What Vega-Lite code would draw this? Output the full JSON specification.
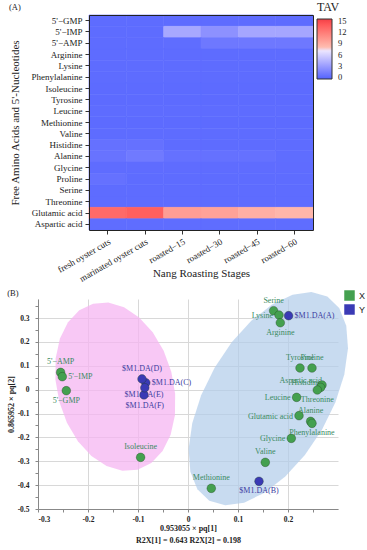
{
  "$schema": "https://vega.github.io/schema/vega-lite/v6.json",
  "background": "white",
  "padding": {"left": 7, "top": 2, "right": 0, "bottom": 0},
  "config": {"view": {"stroke": null}, "font": "Liberation Serif"},
  "spacing": 4,
  "datasets": {
    "heat": [
      {"a":"5'−GMP","s":"fresh oyster cuts","v":0.05},{"a":"5'−GMP","s":"marinated oyster cuts","v":0.05},{"a":"5'−GMP","s":"roasted−15","v":0.05},{"a":"5'−GMP","s":"roasted−30","v":0.05},{"a":"5'−GMP","s":"roasted−45","v":0.05},{"a":"5'−GMP","s":"roasted−60","v":0.05},
      {"a":"5'−IMP","s":"fresh oyster cuts","v":0.05},{"a":"5'−IMP","s":"marinated oyster cuts","v":0.05},{"a":"5'−IMP","s":"roasted−15","v":3.6},{"a":"5'−IMP","s":"roasted−30","v":2.3},{"a":"5'−IMP","s":"roasted−45","v":3.5},{"a":"5'−IMP","s":"roasted−60","v":3.5},
      {"a":"5'−AMP","s":"fresh oyster cuts","v":0.05},{"a":"5'−AMP","s":"marinated oyster cuts","v":0.05},{"a":"5'−AMP","s":"roasted−15","v":0.1},{"a":"5'−AMP","s":"roasted−30","v":0.8},{"a":"5'−AMP","s":"roasted−45","v":0.8},{"a":"5'−AMP","s":"roasted−60","v":0.8},
      {"a":"Arginine","s":"fresh oyster cuts","v":0.05},{"a":"Arginine","s":"marinated oyster cuts","v":0.05},{"a":"Arginine","s":"roasted−15","v":0.05},{"a":"Arginine","s":"roasted−30","v":0.05},{"a":"Arginine","s":"roasted−45","v":0.05},{"a":"Arginine","s":"roasted−60","v":0.05},
      {"a":"Lysine","s":"fresh oyster cuts","v":0.05},{"a":"Lysine","s":"marinated oyster cuts","v":0.05},{"a":"Lysine","s":"roasted−15","v":0.05},{"a":"Lysine","s":"roasted−30","v":0.05},{"a":"Lysine","s":"roasted−45","v":0.05},{"a":"Lysine","s":"roasted−60","v":0.05},
      {"a":"Phenylalanine","s":"fresh oyster cuts","v":0.05},{"a":"Phenylalanine","s":"marinated oyster cuts","v":0.05},{"a":"Phenylalanine","s":"roasted−15","v":0.05},{"a":"Phenylalanine","s":"roasted−30","v":0.05},{"a":"Phenylalanine","s":"roasted−45","v":0.05},{"a":"Phenylalanine","s":"roasted−60","v":0.05},
      {"a":"Isoleucine","s":"fresh oyster cuts","v":0.02},{"a":"Isoleucine","s":"marinated oyster cuts","v":0.02},{"a":"Isoleucine","s":"roasted−15","v":0.02},{"a":"Isoleucine","s":"roasted−30","v":0.02},{"a":"Isoleucine","s":"roasted−45","v":0.02},{"a":"Isoleucine","s":"roasted−60","v":0.02},
      {"a":"Tyrosine","s":"fresh oyster cuts","v":0.02},{"a":"Tyrosine","s":"marinated oyster cuts","v":0.02},{"a":"Tyrosine","s":"roasted−15","v":0.02},{"a":"Tyrosine","s":"roasted−30","v":0.02},{"a":"Tyrosine","s":"roasted−45","v":0.02},{"a":"Tyrosine","s":"roasted−60","v":0.02},
      {"a":"Leucine","s":"fresh oyster cuts","v":0.03},{"a":"Leucine","s":"marinated oyster cuts","v":0.03},{"a":"Leucine","s":"roasted−15","v":0.03},{"a":"Leucine","s":"roasted−30","v":0.03},{"a":"Leucine","s":"roasted−45","v":0.03},{"a":"Leucine","s":"roasted−60","v":0.03},
      {"a":"Methionine","s":"fresh oyster cuts","v":0.02},{"a":"Methionine","s":"marinated oyster cuts","v":0.02},{"a":"Methionine","s":"roasted−15","v":0.02},{"a":"Methionine","s":"roasted−30","v":0.02},{"a":"Methionine","s":"roasted−45","v":0.02},{"a":"Methionine","s":"roasted−60","v":0.02},
      {"a":"Valine","s":"fresh oyster cuts","v":0.03},{"a":"Valine","s":"marinated oyster cuts","v":0.03},{"a":"Valine","s":"roasted−15","v":0.03},{"a":"Valine","s":"roasted−30","v":0.03},{"a":"Valine","s":"roasted−45","v":0.03},{"a":"Valine","s":"roasted−60","v":0.03},
      {"a":"Histidine","s":"fresh oyster cuts","v":0.35},{"a":"Histidine","s":"marinated oyster cuts","v":0.35},{"a":"Histidine","s":"roasted−15","v":0.05},{"a":"Histidine","s":"roasted−30","v":0.05},{"a":"Histidine","s":"roasted−45","v":0.05},{"a":"Histidine","s":"roasted−60","v":0.05},
      {"a":"Alanine","s":"fresh oyster cuts","v":0.5},{"a":"Alanine","s":"marinated oyster cuts","v":0.9},{"a":"Alanine","s":"roasted−15","v":0.35},{"a":"Alanine","s":"roasted−30","v":0.35},{"a":"Alanine","s":"roasted−45","v":0.35},{"a":"Alanine","s":"roasted−60","v":0.1},
      {"a":"Glycine","s":"fresh oyster cuts","v":0.08},{"a":"Glycine","s":"marinated oyster cuts","v":0.08},{"a":"Glycine","s":"roasted−15","v":0.08},{"a":"Glycine","s":"roasted−30","v":0.08},{"a":"Glycine","s":"roasted−45","v":0.08},{"a":"Glycine","s":"roasted−60","v":0.08},
      {"a":"Proline","s":"fresh oyster cuts","v":0.35},{"a":"Proline","s":"marinated oyster cuts","v":0.05},{"a":"Proline","s":"roasted−15","v":0.05},{"a":"Proline","s":"roasted−30","v":0.05},{"a":"Proline","s":"roasted−45","v":0.05},{"a":"Proline","s":"roasted−60","v":0.05},
      {"a":"Serine","s":"fresh oyster cuts","v":0.04},{"a":"Serine","s":"marinated oyster cuts","v":0.04},{"a":"Serine","s":"roasted−15","v":0.04},{"a":"Serine","s":"roasted−30","v":0.04},{"a":"Serine","s":"roasted−45","v":0.04},{"a":"Serine","s":"roasted−60","v":0.04},
      {"a":"Threonine","s":"fresh oyster cuts","v":0.03},{"a":"Threonine","s":"marinated oyster cuts","v":0.03},{"a":"Threonine","s":"roasted−15","v":0.03},{"a":"Threonine","s":"roasted−30","v":0.03},{"a":"Threonine","s":"roasted−45","v":0.03},{"a":"Threonine","s":"roasted−60","v":0.03},
      {"a":"Glutamic acid","s":"fresh oyster cuts","v":13.0},{"a":"Glutamic acid","s":"marinated oyster cuts","v":13.6},{"a":"Glutamic acid","s":"roasted−15","v":9.9},{"a":"Glutamic acid","s":"roasted−30","v":9.6},{"a":"Glutamic acid","s":"roasted−45","v":8.8},{"a":"Glutamic acid","s":"roasted−60","v":8.4},
      {"a":"Aspartic acid","s":"fresh oyster cuts","v":0.1},{"a":"Aspartic acid","s":"marinated oyster cuts","v":0.1},{"a":"Aspartic acid","s":"roasted−15","v":0.1},{"a":"Aspartic acid","s":"roasted−30","v":0.1},{"a":"Aspartic acid","s":"roasted−45","v":0.1},{"a":"Aspartic acid","s":"roasted−60","v":0.1}
    ],
    "ell": [
      {"g":"p","i":0,"x":-0.1899,"y":0.3605},{"g":"p","i":1,"x":-0.1594,"y":0.3649},{"g":"p","i":2,"x":-0.1279,"y":0.3453},{"g":"p","i":3,"x":-0.0977,"y":0.3030},{"g":"p","i":4,"x":-0.0706,"y":0.2410},{"g":"p","i":5,"x":-0.0487,"y":0.1634},{"g":"p","i":6,"x":-0.0334,"y":0.0754},{"g":"p","i":7,"x":-0.0257,"y":-0.0167},{"g":"p","i":8,"x":-0.0261,"y":-0.1070},{"g":"p","i":9,"x":-0.0347,"y":-0.1890},{"g":"p","i":10,"x":-0.0508,"y":-0.2573},{"g":"p","i":11,"x":-0.0734,"y":-0.3073},{"g":"p","i":12,"x":-0.1009,"y":-0.3354},{"g":"p","i":13,"x":-0.1314,"y":-0.3398},{"g":"p","i":14,"x":-0.1629,"y":-0.3202},{"g":"p","i":15,"x":-0.1931,"y":-0.2779},{"g":"p","i":16,"x":-0.2202,"y":-0.2159},{"g":"p","i":17,"x":-0.2421,"y":-0.1382},{"g":"p","i":18,"x":-0.2574,"y":-0.0503},{"g":"p","i":19,"x":-0.2651,"y":0.0419},{"g":"p","i":20,"x":-0.2647,"y":0.1321},{"g":"p","i":21,"x":-0.2561,"y":0.2142},{"g":"p","i":22,"x":-0.2400,"y":0.2824},{"g":"p","i":23,"x":-0.2174,"y":0.3324},{"g":"p","i":24,"x":-0.1899,"y":0.3605},
      {"g":"b","i":0,"x":0.2786,"y":0.3903},{"g":"b","i":1,"x":0.3024,"y":0.3422},{"g":"b","i":2,"x":0.3165,"y":0.2681},{"g":"b","i":3,"x":0.3200,"y":0.1732},{"g":"b","i":4,"x":0.3126,"y":0.0639},{"g":"b","i":5,"x":0.2949,"y":-0.0523},{"g":"b","i":6,"x":0.2680,"y":-0.1675},{"g":"b","i":7,"x":0.2338,"y":-0.2739},{"g":"b","i":8,"x":0.1946,"y":-0.3642},{"g":"b","i":9,"x":0.1531,"y":-0.4322},{"g":"b","i":10,"x":0.1121,"y":-0.4733},{"g":"b","i":11,"x":0.0744,"y":-0.4847},{"g":"b","i":12,"x":0.0426,"y":-0.4657},{"g":"b","i":13,"x":0.0188,"y":-0.4175},{"g":"b","i":14,"x":0.0047,"y":-0.3435},{"g":"b","i":15,"x":0.0012,"y":-0.2485},{"g":"b","i":16,"x":0.0086,"y":-0.1393},{"g":"b","i":17,"x":0.0263,"y":-0.0231},{"g":"b","i":18,"x":0.0532,"y":0.0921},{"g":"b","i":19,"x":0.0874,"y":0.1985},{"g":"b","i":20,"x":0.1266,"y":0.2888},{"g":"b","i":21,"x":0.1681,"y":0.3568},{"g":"b","i":22,"x":0.2091,"y":0.3979},{"g":"b","i":23,"x":0.2468,"y":0.4093},{"g":"b","i":24,"x":0.2786,"y":0.3903}
    ],
    "pts": [
      {"n":"5'−AMP","t":"X","x":-0.2548,"y":0.0725},
      {"n":"5'−IMP","t":"X","x":-0.2514,"y":0.0545},
      {"n":"5'−GMP","t":"X","x":-0.2434,"y":-0.0042},
      {"n":"Isoleucine","t":"X","x":-0.0948,"y":-0.2836},
      {"n":"Serine","t":"X","x":0.1712,"y":0.3309},
      {"n":"Lysine","t":"X","x":0.182,"y":0.3128},
      {"n":"Arginine","t":"X","x":0.1846,"y":0.2806},
      {"n":"Tyrosine","t":"X","x":0.224,"y":0.0909},
      {"n":"Proline","t":"X","x":0.248,"y":0.0909},
      {"n":"Aspartic acid","t":"X","x":0.268,"y":0.0197},
      {"n":"Histidine","t":"X","x":0.2652,"y":0.0096},
      {"n":"Threonine","t":"X","x":0.2586,"y":-0.0013},
      {"n":"Leucine","t":"X","x":0.2172,"y":-0.0322},
      {"n":"Glutamic acid","t":"X","x":0.222,"y":-0.1089},
      {"n":"Alanine","t":"X","x":0.2452,"y":-0.1328},
      {"n":"Phenylalanine","t":"X","x":0.248,"y":-0.1411},
      {"n":"Glycine","t":"X","x":0.2066,"y":-0.204},
      {"n":"Valine","t":"X","x":0.1546,"y":-0.3045},
      {"n":"Methionine","t":"X","x":0.0466,"y":-0.4134},
      {"n":"$M1.DA(A)","t":"Y","x":0.2012,"y":0.31},
      {"n":"$M1.DA(B)","t":"Y","x":0.142,"y":-0.384},
      {"n":"$M1.DA(C)","t":"Y","x":-0.0844,"y":0.029},
      {"n":"$M1.DA(D)","t":"Y","x":-0.092,"y":0.045},
      {"n":"$M1.DA(E)","t":"Y","x":-0.088,"y":-0.022},
      {"n":"$M1.DA(F)","t":"Y","x":-0.0864,"y":0.008}
    ]
  },
  "vconcat": [
    {
      "width": 275,
      "height": 215,
      "title": {"text": "(A)", "anchor": "start", "frame": "bounds", "font": "Liberation Serif", "fontSize": 8.5, "fontWeight": "normal", "color": "#222", "offset": -9},
      "data": {"name": "heat"},
      "resolve": {"axis": {"x": "independent", "y": "independent"}},
      "layer": [
        {
          "mark": {"type": "rect", "strokeWidth": 0.6},
          "encoding": {
            "x": {"field": "s", "type": "nominal",
              "sort": ["fresh oyster cuts","marinated oyster cuts","roasted−15","roasted−30","roasted−45","roasted−60"],
              "scale": {"range": [51, 275]},
              "axis": {"title": "Nang Roasting Stages", "grid": false, "labelAngle": -30, "labelAlign": "right", "labelBaseline": "top", "labelFont": "Liberation Serif", "labelFontSize": 9, "labelColor": "#222", "titleFont": "Liberation Serif", "titleFontSize": 11, "titleFontWeight": "normal", "titleColor": "#222", "tickSize": 4, "tickColor": "#333", "domain": true, "domainColor": "#222", "labelPadding": 3, "titlePadding": -16}},
            "y": {"field": "a", "type": "nominal",
              "sort": ["5'−GMP","5'−IMP","5'−AMP","Arginine","Lysine","Phenylalanine","Isoleucine","Tyrosine","Leucine","Methionine","Valine","Histidine","Alanine","Glycine","Proline","Serine","Threonine","Glutamic acid","Aspartic acid"],
              "axis": {"title": "Free Amino Acids and 5'-Nucleotides", "offset": -51, "grid": false, "labelFont": "Liberation Serif", "labelFontSize": 9, "labelColor": "#222", "titleFont": "Liberation Serif", "titleFontSize": 11, "titleFontWeight": "normal", "titleColor": "#222", "tickSize": 4, "tickColor": "#333", "domain": true, "domainColor": "#222", "labelPadding": 3, "titlePadding": 11}},
            "color": {"field": "v", "type": "quantitative",
              "scale": {"domain": [-0.5, 7.5, 15.5], "range": ["#5263f8", "#ffffff", "#ee3f46"]},
              "legend": {"title": "TAV", "orient": "none", "legendX": 279, "legendY": -13, "direction": "vertical", "gradientLength": 60, "gradientThickness": 15, "values": [0, 3, 6, 9, 12, 15], "labelOverlap": false, "titleFont": "Liberation Serif", "titleFontSize": 12, "titleFontWeight": "normal", "titleColor": "#222", "labelFont": "Liberation Serif", "labelFontSize": 8.5, "labelColor": "#222", "gradientStrokeColor": "#333", "gradientStrokeWidth": 1, "labelOffset": 6}},
            "stroke": {"field": "v", "type": "quantitative",
              "scale": {"domain": [-0.5, 7.5, 15.5], "range": ["#5263f8", "#ffffff", "#ee3f46"]}, "legend": null}
          }
        },
        {
          "mark": {"type": "rect", "opacity": 0},
          "encoding": {
            "x": {"field": "s", "type": "nominal",
              "sort": ["fresh oyster cuts","marinated oyster cuts","roasted−15","roasted−30","roasted−45","roasted−60"],
              "axis": {"orient": "top", "title": null, "labels": false, "ticks": false, "grid": false, "domain": true, "domainColor": "#222"}},
            "y": {"field": "a", "type": "nominal",
              "sort": ["5'−GMP","5'−IMP","5'−AMP","Arginine","Lysine","Phenylalanine","Isoleucine","Tyrosine","Leucine","Methionine","Valine","Histidine","Alanine","Glycine","Proline","Serine","Threonine","Glutamic acid","Aspartic acid"],
              "axis": {"orient": "right", "title": null, "labels": false, "ticks": false, "grid": false, "domain": true, "domainColor": "#222"}}
          }
        }
      ]
    },
    {
      "width": 300,
      "height": 210,
      "title": {"text": "(B)", "anchor": "start", "frame": "bounds", "font": "Liberation Serif", "fontSize": 8.5, "fontWeight": "normal", "color": "#222", "offset": -7},
      "encoding": {
        "x": {"field": "x", "type": "quantitative", "scale": {"domain": [-0.3, 0.3], "nice": false, "zero": false},
          "axis": {"title": ["0.953055 × pq[1]", "R2X[1] = 0.643 R2X[2] = 0.198"],
            "values": [-0.3,-0.25,-0.2,-0.15,-0.1,-0.05,0,0.05,0.1,0.15,0.2,0.25],
            "labelExpr": "abs(round(datum.value*100)) % 10 != 0 ? '' : (abs(datum.value) < 0.001 ? '0' : replace(format(datum.value, '.1f'), '−', '-'))",
            "grid": true,
            "gridColor": {"condition": {"test": "abs(round(datum.value*100)) % 10 == 0", "value": "#d8d8d8"}, "value": "rgba(0,0,0,0)"},
            "domainColor": "#888", "tickColor": "#888", "tickSize": 3,
            "labelFont": "Liberation Serif", "labelFontSize": 7.5, "labelFontWeight": "bold", "labelColor": "#222", "labelPadding": 3,
            "titleFont": "Liberation Serif", "titleFontSize": 8, "titleFontWeight": "bold", "titleColor": "#222", "titlePadding": 2, "titleLineHeight": 12}},
        "y": {"field": "y", "type": "quantitative", "scale": {"domain": [-0.5, 0.38], "nice": false, "zero": false},
          "axis": {"title": "0.865952 × pq[2]",
            "values": [-0.5,-0.45,-0.4,-0.35,-0.3,-0.25,-0.2,-0.15,-0.1,-0.05,0,0.05,0.1,0.15,0.2,0.25,0.3,0.35],
            "labelExpr": "abs(round(datum.value*100)) % 10 != 0 ? '' : (abs(datum.value) < 0.001 ? '0' : replace(format(datum.value, '.1f'), '−', '-'))",
            "grid": true,
            "gridColor": {"condition": {"test": "abs(round(datum.value*100)) % 10 == 0", "value": "#d8d8d8"}, "value": "rgba(0,0,0,0)"},
            "domainColor": "#888", "tickColor": "#888", "tickSize": 3,
            "labelFont": "Liberation Serif", "labelFontSize": 7.5, "labelFontWeight": "bold", "labelColor": "#222", "labelPadding": 6,
            "titleFont": "Liberation Serif", "titleFontSize": 8, "titleFontWeight": "bold", "titleColor": "#222", "titlePadding": 2}}
      },
      "layer": [
        {"data": {"name": "ell"}, "transform": [{"filter": "datum.g == 'p'"}],
         "mark": {"type": "line", "fill": "#f5b6f2", "fillOpacity": 0.75, "strokeWidth": 0, "stroke": null},
         "encoding": {"order": {"field": "i", "type": "quantitative"}}},
        {"data": {"name": "ell"}, "transform": [{"filter": "datum.g == 'b'"}],
         "mark": {"type": "line", "fill": "#b3cdea", "fillOpacity": 0.72, "strokeWidth": 0, "stroke": null},
         "encoding": {"order": {"field": "i", "type": "quantitative"}}},
        {"mark": {"type": "rule", "color": "#555", "strokeWidth": 1},
         "encoding": {"x": {"datum": 0, "type": "quantitative"}}},
        {"mark": {"type": "rule", "color": "#555", "strokeWidth": 1},
         "encoding": {"y": {"datum": 0, "type": "quantitative"}}},
        {"mark": {"type": "point", "shape": "triangle-up", "filled": true, "color": "#888", "opacity": 1, "size": 50},
         "encoding": {"x": {"datum": -0.3, "type": "quantitative"}, "y": {"datum": 0.38, "type": "quantitative"}}},
        {"mark": {"type": "point", "shape": "triangle-right", "filled": true, "color": "#888", "opacity": 1, "size": 50},
         "encoding": {"x": {"datum": 0.3, "type": "quantitative"}, "y": {"datum": -0.5, "type": "quantitative"}}},
        {"data": {"name": "pts"}, "transform": [{"filter": {"field": "n", "oneOf": ["Serine","Tyrosine","Proline","Alanine","Valine","Methionine","Isoleucine","5'−AMP","$M1.DA(D)"]}}],
         "mark": {"type": "text", "font": "Liberation Serif", "fontSize": 8, "align": "center", "baseline": "middle", "dy": -10},
         "encoding": {"text": {"field": "n"}, "color": {"condition": {"test": "datum.t == 'X'", "value": "#3a8a62"}, "value": "#3c3ca0"}}},
        {"data": {"name": "pts"}, "transform": [{"filter": {"field": "n", "oneOf": ["Arginine","Threonine","Phenylalanine","$M1.DA(B)","5'−GMP"]}}],
         "mark": {"type": "text", "font": "Liberation Serif", "fontSize": 8, "align": "center", "baseline": "middle", "dy": 10},
         "encoding": {"text": {"field": "n"}, "color": {"condition": {"test": "datum.t == 'X'", "value": "#3a8a62"}, "value": "#3c3ca0"}}},
        {"data": {"name": "pts"}, "transform": [{"filter": {"field": "n", "oneOf": ["$M1.DA(F)"]}}],
         "mark": {"type": "text", "font": "Liberation Serif", "fontSize": 8, "align": "center", "baseline": "middle", "dy": 18},
         "encoding": {"text": {"field": "n"}, "color": {"value": "#3c3ca0"}}},
        {"data": {"name": "pts"}, "transform": [{"filter": {"field": "n", "oneOf": ["$M1.DA(E)"]}}],
         "mark": {"type": "text", "font": "Liberation Serif", "fontSize": 8, "align": "center", "baseline": "middle"},
         "encoding": {"text": {"field": "n"}, "color": {"value": "#3c3ca0"}}},
        {"data": {"name": "pts"}, "transform": [{"filter": {"field": "n", "oneOf": ["Lysine","Leucine","Glutamic acid","Glycine"]}}],
         "mark": {"type": "text", "font": "Liberation Serif", "fontSize": 8, "align": "right", "baseline": "middle", "dx": -6, "dy": 1},
         "encoding": {"text": {"field": "n"}, "color": {"value": "#3a8a62"}}},
        {"data": {"name": "pts"}, "transform": [{"filter": {"field": "n", "oneOf": ["Aspartic acid","Histidine"]}}],
         "mark": {"type": "text", "font": "Liberation Serif", "fontSize": 8, "align": "right", "baseline": "middle", "dx": 0, "dy": -4},
         "encoding": {"text": {"field": "n"}, "color": {"value": "#3a8a62"}}},
        {"data": {"name": "pts"}, "transform": [{"filter": {"field": "n", "oneOf": ["$M1.DA(A)","5'−IMP","$M1.DA(C)"]}}],
         "mark": {"type": "text", "font": "Liberation Serif", "fontSize": 8, "align": "left", "baseline": "middle", "dx": 6},
         "encoding": {"text": {"field": "n"}, "color": {"condition": {"test": "datum.t == 'X'", "value": "#3a8a62"}, "value": "#3c3ca0"}}},
        {"data": {"name": "pts"},
         "mark": {"type": "circle", "size": 75, "opacity": 1, "stroke": "#1f3f1f", "strokeWidth": 0.8, "strokeOpacity": 0.45},
         "encoding": {"color": {"field": "t", "type": "nominal", "scale": {"domain": ["X", "Y"], "range": ["#44a04f", "#3a3ab5"]},
           "legend": {"title": null, "orient": "none", "legendX": 306, "legendY": -9, "symbolType": "square", "symbolSize": 110, "symbolStrokeWidth": 0, "labelFont": "Liberation Sans", "labelFontSize": 9, "labelColor": "#222", "rowPadding": 3}}}}
      ]
    }
  ]
}
